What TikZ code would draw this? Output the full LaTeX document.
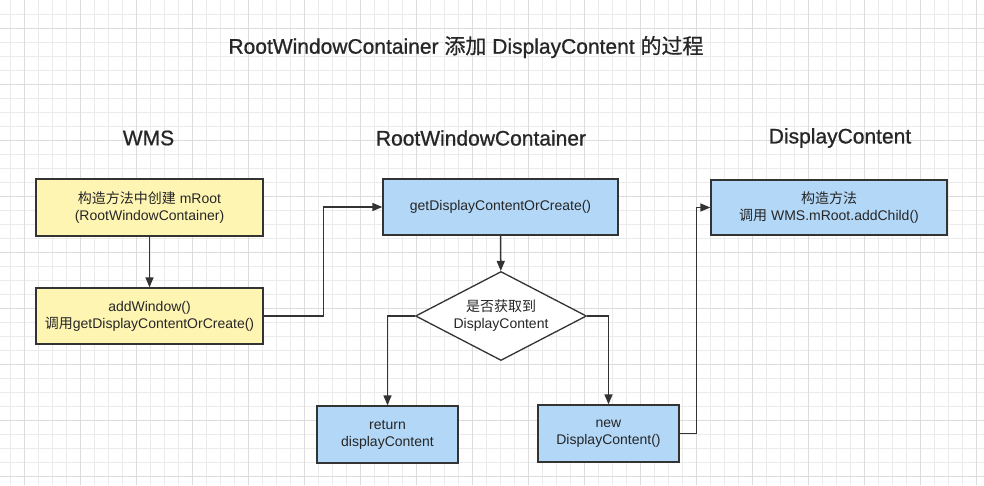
\documentclass[tikz,border=0pt]{standalone}
\usepackage{fontspec}
\setmainfont{Liberation Sans}
\newfontfamily\cjk{Noto Sans CJK SC}
\newfontfamily\headfont[FakeBold=0.8]{Liberation Sans}
\newfontfamily\headcjk[FakeBold=0.5]{Noto Sans CJK SC}
\usetikzlibrary{arrows.meta,shapes.geometric}
\definecolor{gridminor}{HTML}{EBEBEB}
\definecolor{gridmajor}{HTML}{DCDCDC}
\definecolor{boxyellow}{HTML}{FFF5B3}
\definecolor{boxblue}{HTML}{B3D7F7}
\definecolor{ink}{HTML}{333333}
\definecolor{txt}{HTML}{262626}
\begin{document}
\begin{tikzpicture}[x=1pt, y=-1pt,
    box/.style={draw=ink, line width=1.3pt, align=center, text=txt,
        font=\fontsize{14}{17}\selectfont, inner sep=0pt},
    ybox/.style={box, fill=boxyellow},
    bbox/.style={box, fill=boxblue},
    head/.style={text=txt, font=\headfont\fontsize{21}{24}\selectfont},
    arr/.style={draw=ink, line width=1.5pt, -{Triangle[length=10pt,width=8pt]}}]
\useasboundingbox (0,0) rectangle (984,485);
% Fondo
\fill[white] (0,0) rectangle (984,485);
\foreach \x in {10,24,...,976} {
    \draw[gridminor, line width=0.6pt] (\x,0) -- (\x,485);
}
\foreach \y in {14,28,...,476} {
    \draw[gridminor, line width=0.6pt] (0,\y) -- (984,\y);
}
\foreach \x in {24,80,...,976} {
    \draw[gridmajor, line width=1pt] (\x,0) -- (\x,485);
}
\foreach \y in {28,84,...,476} {
    \draw[gridmajor, line width=1pt] (0,\y) -- (984,\y);
}
% Titulos
\node[head] (title) at (466,47) {RootWindowContainer {\headcjk 添加} DisplayContent {\headcjk 的过程}};
\node[head] (hdrwms) at (148.5,138) {WMS};
\node[head] (hdrroot) at (481,138) {RootWindowContainer};
\node[head] (hdrdc) at (840,138) {DisplayContent};
% WMS
\node[ybox, minimum width=227pt, minimum height=57pt] (ctor) at (149.5,207.5)
    {{\cjk 构造方法中创建} mRoot\\(RootWindowContainer)};
\node[ybox, minimum width=227pt, minimum height=56pt] (addwin) at (149.5,316)
    {addWindow()\\{\cjk 调用}getDisplayContentOrCreate()};
% RootWindowContainer
\node[bbox, minimum width=235pt, minimum height=56pt] (getdc) at (500.5,207)
    {getDisplayContentOrCreate()};
\node[draw=ink, line width=1.3pt, fill=white, shape=diamond, aspect=1.92,
    inner sep=0pt, minimum width=171pt, minimum height=89pt, align=center,
    text=txt, font=\fontsize{14}{17}\selectfont] (check) at (501,316)
    {{\cjk 是否获取到}\\DisplayContent};
\node[bbox, minimum width=141pt, minimum height=57pt] (ret) at (387.5,434.5)
    {return\\displayContent};
\node[bbox, minimum width=141pt, minimum height=57pt] (newdc) at (608.5,433.5)
    {new\\DisplayContent()};
% DisplayContent
\node[bbox, minimum width=236pt, minimum height=55pt] (ctordc) at (829,207.5)
    {{\cjk 构造方法}\\{\cjk 调用} WMS.mRoot.addChild()};
% Flechas
\draw[arr] (ctor) -- (addwin);
\draw[arr] (addwin.east) -- ++(60,0) |- (getdc.west);
\draw[arr] (getdc) -- (check);
\draw[arr] (check.west) -| (ret);
\draw[arr] (check.east) -| (newdc);
\draw[arr] (newdc.east) -- ++(17,0) |- (ctordc.west);
\end{tikzpicture}
\end{document}
